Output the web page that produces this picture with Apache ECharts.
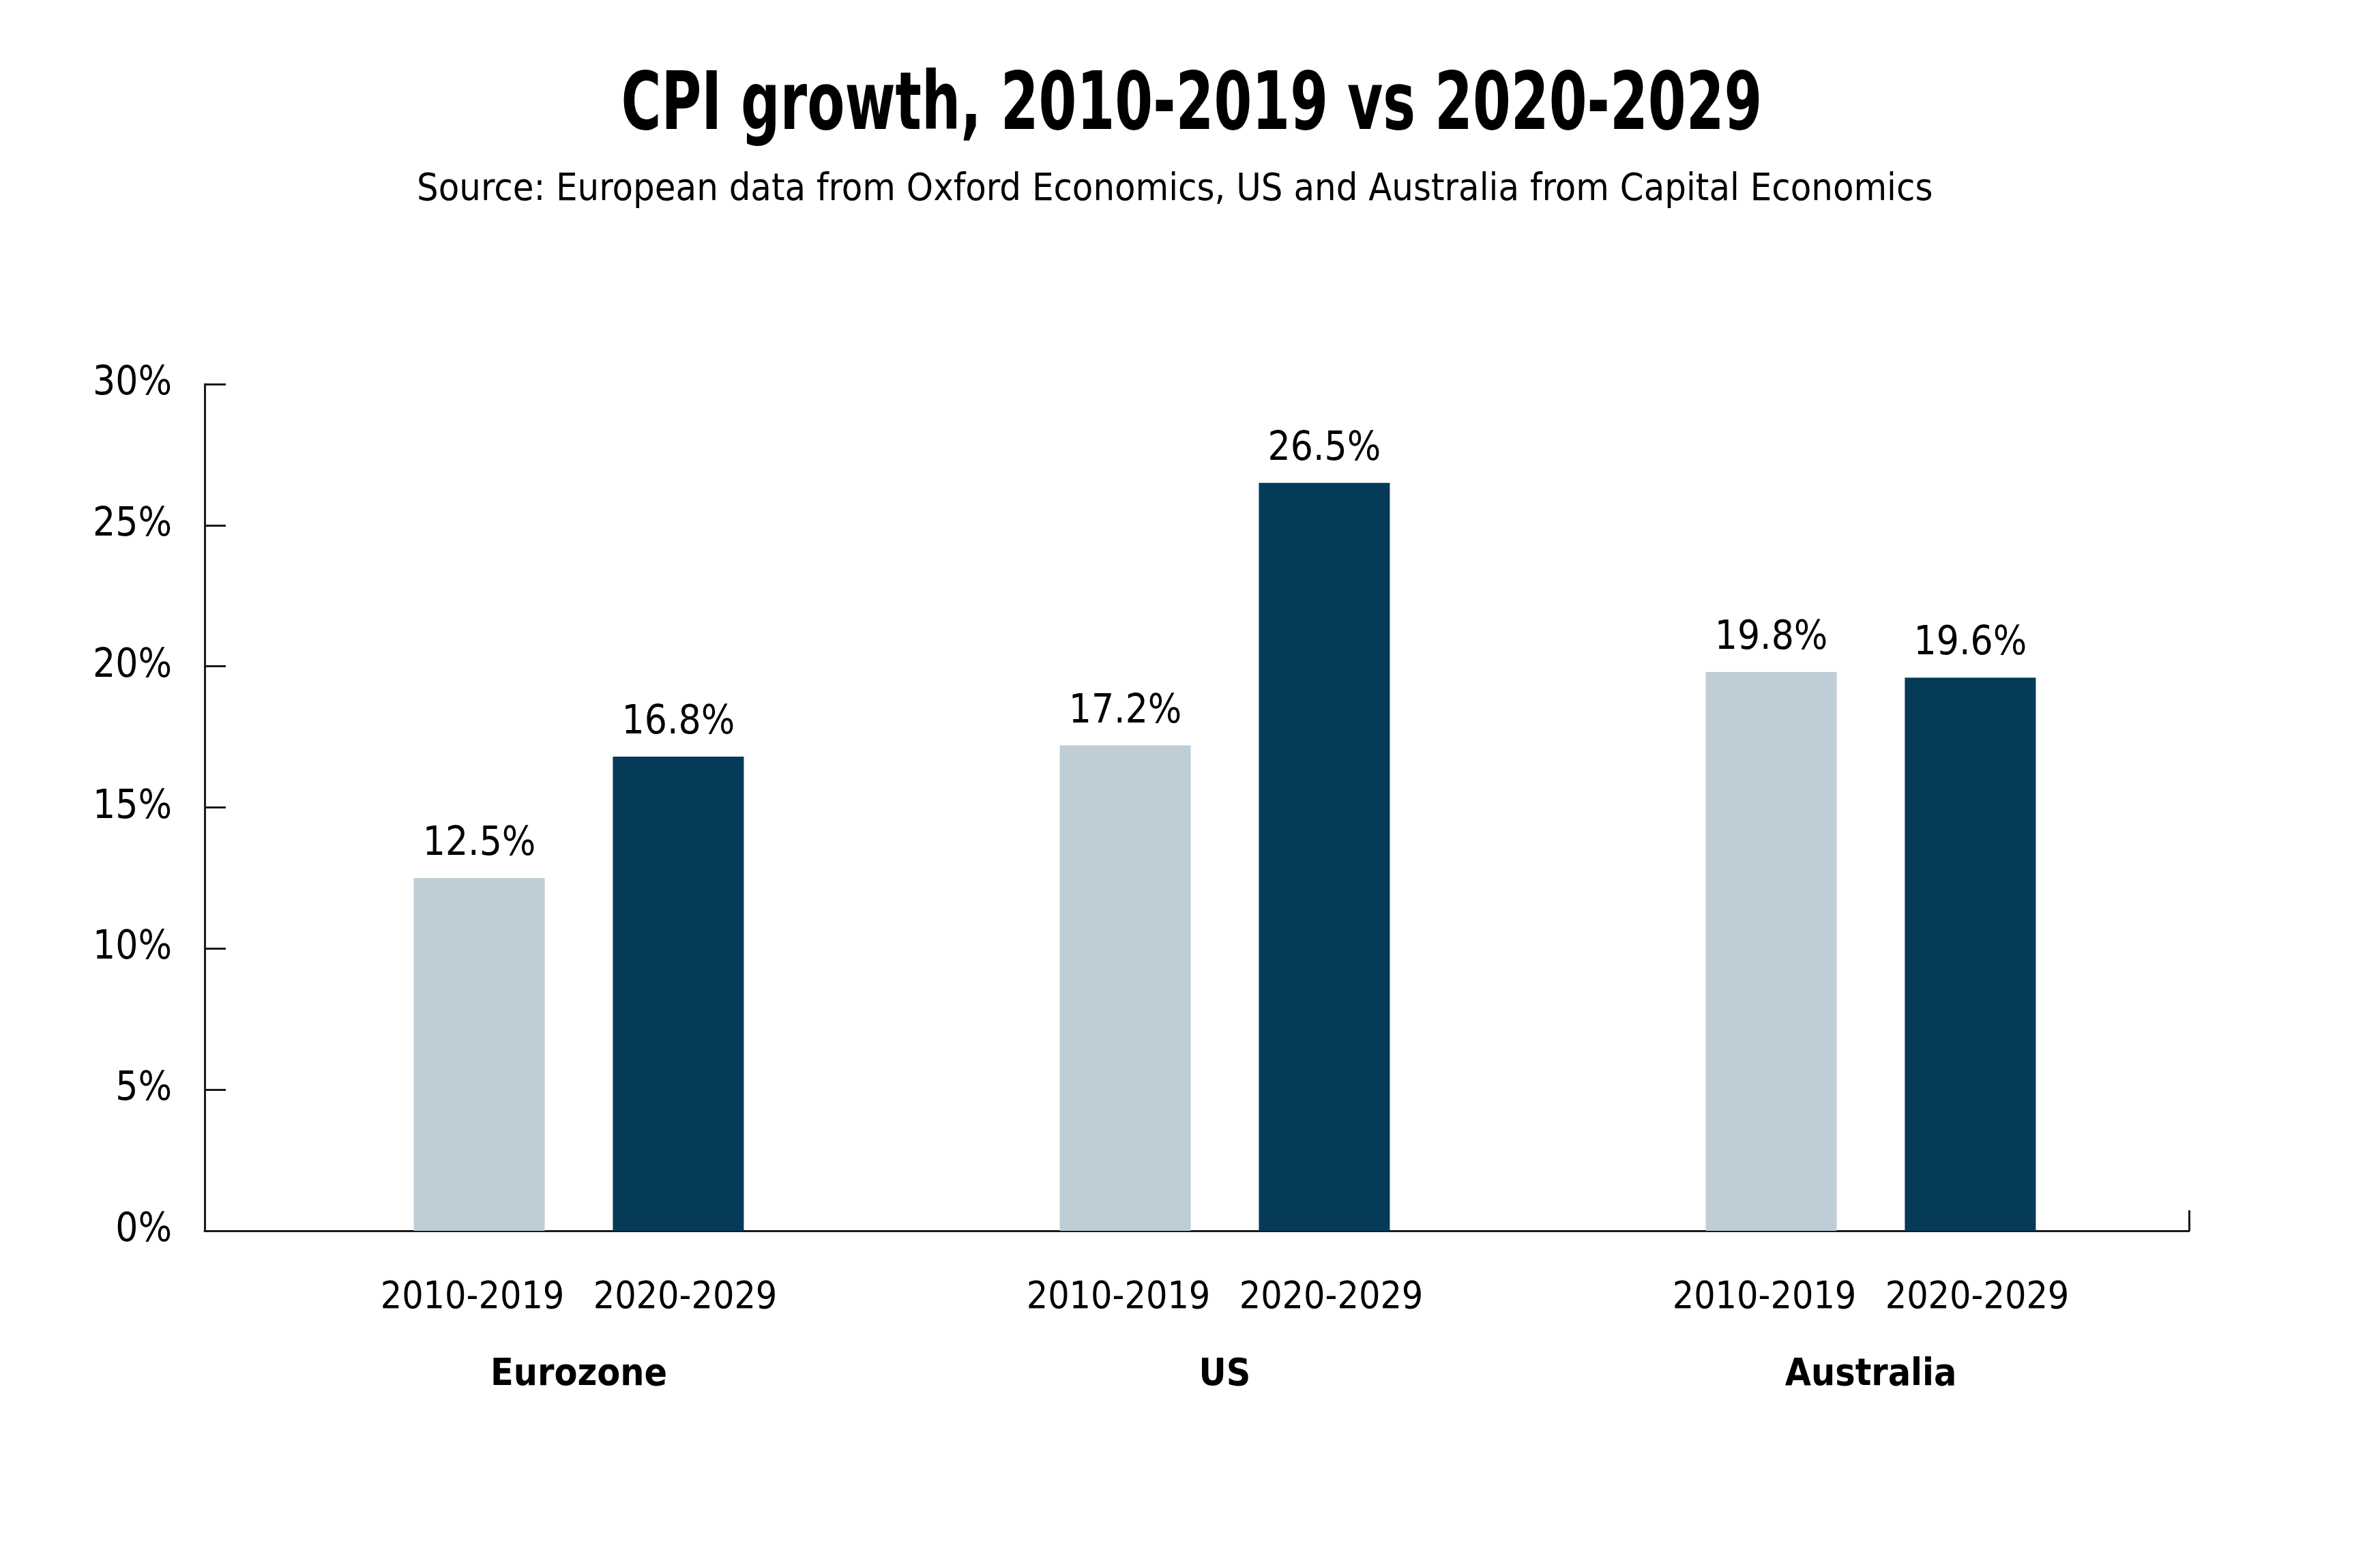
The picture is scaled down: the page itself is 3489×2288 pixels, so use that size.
<!DOCTYPE html>
<html>
<head>
<meta charset="utf-8">
<script src="https://cdn.jsdelivr.net/npm/echarts@6/dist/echarts.min.js"></script>
<style>
html, body { margin: 0; padding: 0; background: #ffffff; }
#chart { width: 3489px; height: 2288px; }
</style>
</head>
<body>
<div id="chart"></div>
<script>
// ---- data ----
const regions = ['Eurozone', 'US', 'Australia'];
const periods = ['2010-2019', '2020-2029'];
const cpi2010s = [12.5, 17.2, 19.8];
const cpi2020s = [16.8, 26.5, 19.6];
const yTicks = [0, 5, 10, 15, 20, 25, 30];
const titleText = 'CPI growth, 2010-2019 vs 2020-2029';
const subtitleText = 'Source: European data from Oxford Economics, US and Australia from Capital Economics';

const FONT = "'Liberation Sans Narrow', 'DejaVu Sans Condensed', 'Liberation Sans', sans-serif";
const LIGHT = '#BFCDD6';
const DARK = '#053B59';
const AXIS = '#1a1a1a';

const chart = echarts.init(document.getElementById('chart'), null, { renderer: 'canvas' });

const yMin = yTicks[0], yMax = yTicks[yTicks.length - 1], yStep = yTicks[1] - yTicks[0];

const valueLabel = {
  show: true, position: 'top', distance: 20,
  fontFamily: FONT, fontSize: 58, color: '#000',
  formatter: function (p) { return p.value.toFixed(1) + '%'; }
};

chart.setOption({
  backgroundColor: '#ffffff',
  animation: false,
  graphic: [
    {
      type: 'text', x: 1747, y: 159, scaleX: 0.763, scaleY: 1,
      style: {
        text: titleText, align: 'center', verticalAlign: 'middle',
        textAlign: 'center', textVerticalAlign: 'middle',
        fontFamily: FONT, fontSize: 117, fontWeight: 'bold', fill: '#000'
      }
    }
  ],
  title: [
    {
      text: subtitleText,
      left: 606, top: 246,
      textStyle: { fontFamily: FONT, fontSize: 55.5, fontWeight: 'normal', color: '#000' }
    }
  ],
  grid: [
    { left: 300, right: 280, top: 563, bottom: 484, containLabel: false },
    { left: 375, right: 273, top: 563, bottom: 484, containLabel: false }
  ],
  xAxis: [
    {
      gridIndex: 0, type: 'value', min: 0, max: 1, interval: 1,
      axisLine: { show: true, lineStyle: { color: AXIS, width: 3 } },
      axisTick: { show: true, inside: true, length: 30, lineStyle: { color: AXIS, width: 3 } },
      axisLabel: { show: false },
      splitLine: { show: false }
    },
    {
      gridIndex: 1, type: 'category', data: regions,
      axisLine: { show: false }, axisTick: { show: false }, splitLine: { show: false },
      axisLabel: {
        interval: 0, margin: 42,
        formatter: function (v) {
          return '{p|' + periods[0] + '}{p|' + periods[1] + '}\n{c|' + v + '}';
        },
        rich: {
          p: { fontFamily: FONT, fontSize: 55, color: '#000', width: 312, align: 'center', lineHeight: 113 },
          c: { fontFamily: FONT, fontSize: 55, fontWeight: 'bold', color: '#000', lineHeight: 113, align: 'center' }
        }
      }
    }
  ],
  yAxis: [
    {
      gridIndex: 0, type: 'value', min: yMin, max: yMax, interval: yStep,
      axisLine: { show: true, lineStyle: { color: AXIS, width: 3 } },
      axisTick: { show: true, inside: true, length: 31, lineStyle: { color: AXIS, width: 3 } },
      axisLabel: {
        margin: 48, fontFamily: FONT, fontSize: 58, color: '#000',
        padding: [0, 0, 40, 0],
        formatter: '{value}%'
      },
      splitLine: { show: false }
    },
    {
      gridIndex: 1, type: 'value', min: yMin, max: yMax, interval: yStep, show: false,
      splitLine: { show: false }
    }
  ],
  series: [
    {
      name: periods[0], type: 'bar', xAxisIndex: 1, yAxisIndex: 1,
      data: cpi2010s, barWidth: 192, barGap: '52%',
      itemStyle: { color: LIGHT },
      label: valueLabel
    },
    {
      name: periods[1], type: 'bar', xAxisIndex: 1, yAxisIndex: 1,
      data: cpi2020s, barWidth: 192, barGap: '52%',
      itemStyle: { color: DARK },
      label: valueLabel
    }
  ]
});
</script>
</body>
</html>
